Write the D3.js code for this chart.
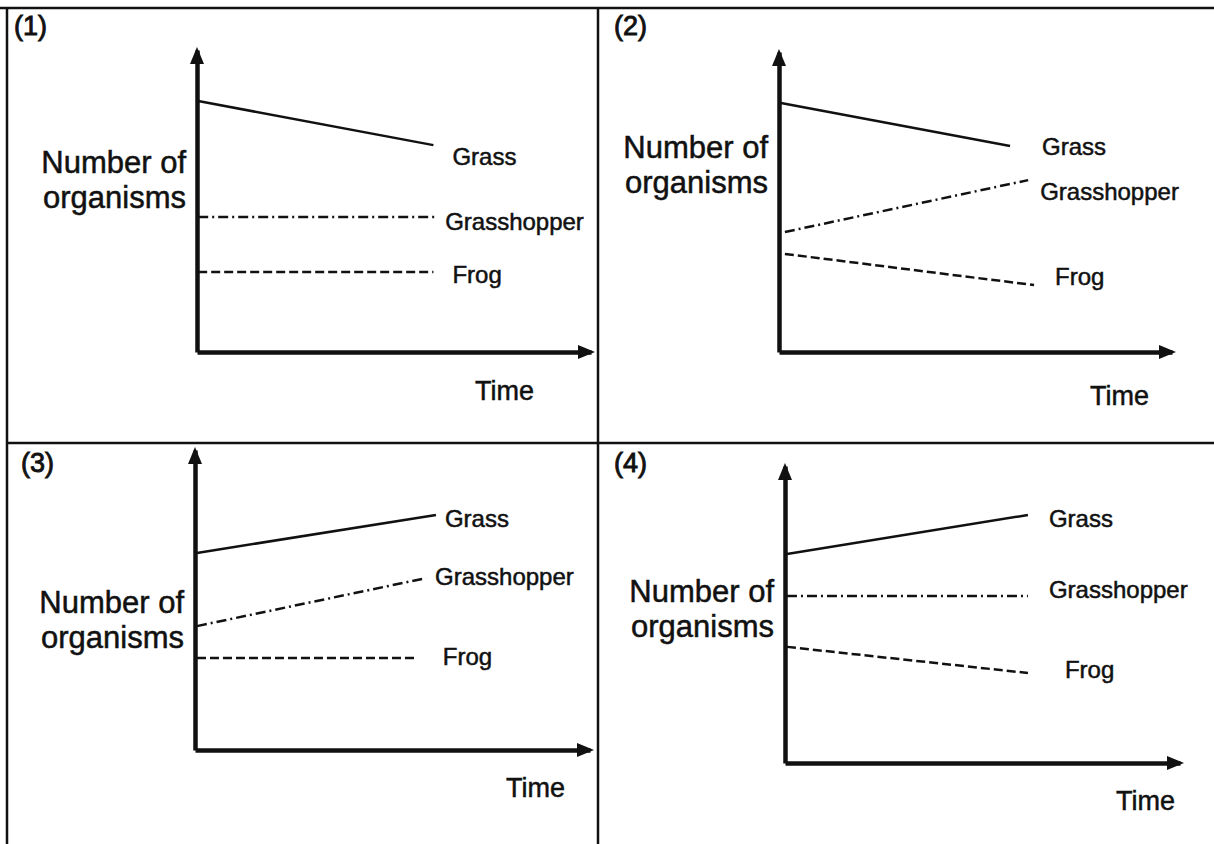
<!DOCTYPE html>
<html>
<head>
<meta charset="UTF-8">
<title>Food chain populations</title>
<style>
  body { margin: 0; background: #fff; }
  text { font-family: "Liberation Sans", Arial, sans-serif; fill: #111; stroke: #111; stroke-width: 0.5; }
</style>
</head>
<body>
<svg width="1214" height="844"></svg>
<script src="https://cdn.jsdelivr.net/npm/d3@7"></script>
<script>
// data (number of organisms on a 0-100 scale, time on 0-10)
var panelNames = ["(1)", "(2)", "(3)", "(4)"];
var species = ["Grass", "Grasshopper", "Frog"];
var tStart = [[0.03, 0.03, 0.03], [0.05, 0.15, 0.15], [0.05, 0.05, 0.05], [0.05, 0.05, 0.05]];
var tEnd = [[6.0, 6.12, 6.0], [5.88, 6.34, 6.49], [6.1, 5.85, 5.59], [6.15, 6.15, 6.15]];
var startVals = [[83.1, 44.7, 26.5], [83.0, 40.0, 32.7], [65.7, 41.3, 30.7], [70.4, 56.2, 39.1]];
var endVals = [[68.5, 44.7, 26.5], [68.7, 57.3, 22.3], [78.3, 57.3, 30.7], [83.5, 56.2, 30.3]];
var yTitle = ["Number of", "organisms"];
var xTitle = "Time";

// layout of each quadrant
var layout = [
  {ox: 197, oy: 352, xEnd: 591, yTop: 50, num: [14, 35], titleY: 173, time: [475, 400],
   lab: [[19, 20], [7, 13], [19, 11]]},
  {ox: 779, oy: 352, xEnd: 1172, yTop: 52, num: [614, 35], titleY: 158, time: [1090, 405],
   lab: [[32, 9], [12, 20], [21, 0]]},
  {ox: 195, oy: 750, xEnd: 590, yTop: 450, num: [21, 472], titleY: 613, time: [506, 797],
   lab: [[9, 12], [9, 7], [27, 7]]},
  {ox: 785, oy: 763, xEnd: 1180, yTop: 466, num: [614, 472], titleY: 602, time: [1116, 810],
   lab: [[21, 12], [21, 2], [37, 5]]}
];
var dashes = ["none", "10,4,2,4", "9,4"];

var svg = d3.select("svg");

// frame
var frame = svg.append("g").attr("stroke", "#111").attr("stroke-width", 2.5);
frame.append("line").attr("x1", 0).attr("x2", 1214).attr("y1", 8).attr("y2", 8);
frame.append("line").attr("x1", 7).attr("x2", 7).attr("y1", 8).attr("y2", 844);
frame.append("line").attr("x1", 598).attr("x2", 598).attr("y1", 8).attr("y2", 844);
frame.append("line").attr("x1", 7).attr("x2", 1214).attr("y1", 443).attr("y2", 443);

layout.forEach(function(L, p) {
  var g = svg.append("g");
  var x = d3.scaleLinear().domain([0, 10]).range([L.ox, L.xEnd]);
  var y = d3.scaleLinear().domain([0, 100]).range([L.oy, L.yTop]);

  // axes, no ticks
  g.append("g").attr("transform", "translate(0," + L.oy + ")")
    .call(d3.axisBottom(x).ticks(0).tickSizeOuter(0));
  g.append("g").attr("transform", "translate(" + L.ox + ",0)")
    .call(d3.axisLeft(y).ticks(0).tickSizeOuter(0));
  g.selectAll(".domain").attr("stroke", "#111").attr("stroke-width", 4.5);

  // arrow heads
  var xr = x.range(), yr = y.range();
  g.append("path")
    .attr("d", "M" + (xr[1] + 4) + "," + L.oy + "l-17,-7l0,14z")
    .attr("fill", "#111");
  g.append("path")
    .attr("d", "M" + L.ox + "," + (yr[1] - 3) + "l-7,17l14,0z")
    .attr("fill", "#111");

  // series
  species.forEach(function(s, i) {
    var pts = [[tStart[p][i], startVals[p][i]], [tEnd[p][i], endVals[p][i]]];
    var line = d3.line().x(function(d) { return x(d[0]); }).y(function(d) { return y(d[1]); });
    g.append("path")
      .attr("d", line(pts))
      .attr("fill", "none")
      .attr("stroke", "#111")
      .attr("stroke-width", 2.5)
      .attr("stroke-dasharray", dashes[i]);
    g.append("text")
      .attr("x", x(tEnd[p][i]) + L.lab[i][0])
      .attr("y", y(endVals[p][i]) + L.lab[i][1])
      .attr("font-size", 24)
      .text(s);
  });

  // titles
  g.append("text").attr("x", L.num[0]).attr("y", L.num[1]).attr("font-size", 27)
    .style("stroke-width", 0.9).text(panelNames[p]);
  yTitle.forEach(function(t, k) {
    g.append("text")
      .attr("x", L.ox - 11)
      .attr("y", L.titleY + k * 35)
      .attr("text-anchor", "end")
      .attr("font-size", 31)
      .text(t);
  });
  g.append("text").attr("x", L.time[0]).attr("y", L.time[1]).attr("font-size", 27).text(xTitle);
});
</script>
</body>
</html>
